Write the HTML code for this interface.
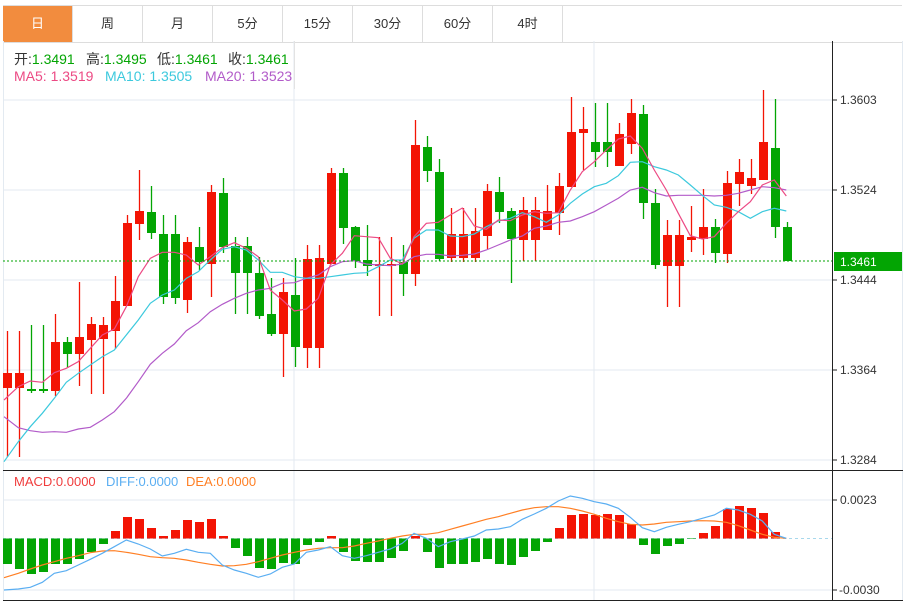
<!DOCTYPE html>
<html><head><meta charset="utf-8">
<style>
body{margin:0;width:907px;height:601px;background:#fff;overflow:hidden;font-family:"Liberation Sans","Noto Sans CJK SC",sans-serif;}
#tabs{position:absolute;left:3px;top:5px;height:36px;border-top:1px solid #ddd;border-bottom:1px solid #ddd;width:899px;}
.tab{position:absolute;top:0;width:69px;height:36px;line-height:36px;text-align:center;font-size:13px;color:#333;border-right:1px solid #ddd;}
svg{position:absolute;left:0;top:0}
</style></head><body>
<div id="tabs">
<div class="tab" style="left:0;background:#f28c3e;color:#fff">日</div>
<div class="tab" style="left:70px">周</div>
<div class="tab" style="left:140px">月</div>
<div class="tab" style="left:210px">5分</div>
<div class="tab" style="left:280px">15分</div>
<div class="tab" style="left:350px">30分</div>
<div class="tab" style="left:420px">60分</div>
<div class="tab" style="left:490px">4时</div>
</div>
<svg id="s" width="907" height="601" xmlns="http://www.w3.org/2000/svg"></svg>
<script>
var C=[[373,388,331,457,1],[373,388,331,457,1],[389,391,325,393,0],[389,391,325,393,0],[342,391,314,396,1],[342,354,337,368,0],[337,354,282,386,1],[324,340,317,394,1],[325,339,317,394,1],[301,331,276,349,1],[223,306,215,306,1],[211,224,170,240,1],[212,233,186,239,0],[234,297,215,304,0],[234,298,215,304,0],[242,300,237,313,1],[247,262,227,270,0],[192,264,185,297,1],[193,247,178,253,0],[246,273,237,314,0],[246,273,237,314,0],[273,316,257,319,0],[314,334,278,336,0],[292,334,278,377,1],[295,347,258,367,0],[259,348,245,368,1],[258,348,245,368,1],[173,264,168,264,1],[173,228,168,244,0],[227,261,226,268,0],[260,266,225,276,0],[264,266,237,316,1],[264,266,237,316,1],[262,274,245,296,0],[145,274,120,286,1],[147,171,136,182,0],[172,259,159,261,0],[234,258,208,262,1],[234,258,208,262,1],[231,258,208,262,1],[191,236,184,249,1],[192,212,177,223,0],[211,239,208,283,0],[210,240,197,261,1],[210,240,197,261,1],[211,230,185,230,1],[186,213,173,235,1],[132,187,97,187,1],[129,133,107,170,1],[142,152,103,167,0],[142,152,103,167,0],[134,166,123,166,1],[113,144,99,154,1],[114,203,105,219,0],[203,265,189,269,0],[235,266,220,307,1],[235,266,220,307,1],[237,240,206,252,1],[227,239,189,255,1],[227,253,219,263,0],[183,254,171,263,1],[172,184,159,206,1],[178,186,159,194,1],[142,180,90,180,1],[148,227,99,238,0],[227,261,222,261,0]];
var M=[564,569,574,572,564,564,559,552,544,531,517,519,528,536,530,520,522,519,536,548,556,568,569,563,564,545,542,536,552,561,562,562,558,551,536,552,568,564,564,562,559,564,565,557,551,542,528,515,514,515,514,515,524,545,554,546,544,539,533,526,509,506,508,513,532,538.5];
function P(a,b,ox){var r=[];a.forEach(function(p){r.push(((ox+p[0]/3)).toFixed(1)+','+(b+p[1]/3).toFixed(1))});return r.join(' ');}
var ma5a=[[12,930],[55,890],[91,873],[127,877],[163,848],[199,835],[235,815],[271,775],[307,735],[343,717],[379,650],[415,560],[451,505],[487,487],[523,487],[559,495],[595,525],[631,500],[667,473],[703,458],[739,475],[775,500],[811,600],[847,630],[883,663],[919,657],[955,625],[991,525],[1027,490],[1063,437],[1099,440],[1135,443],[1171,505],[1207,522]];
var ma5b=[[42,440],[79,400],[115,397],[151,375],[187,354],[223,408],[259,418],[295,390],[331,392],[367,375],[403,365],[439,370],[475,368],[511,300],[547,245],[583,215],[619,180],[655,147],[691,138],[727,175],[763,240],[799,300],[835,370],[871,437],[907,447],[943,440],[979,400],[1015,365],[1051,335],[1087,285],[1123,270],[1159,318]];
var ma10a=[[12,1115],[55,1055],[91,1010],[127,970],[163,925],[199,877],[235,850],[271,825],[307,800],[343,780],[379,735],[415,690],[451,640],[487,615],[523,600],[559,565],[595,545],[631,510],[667,478],[703,470],[739,480],[775,510],[811,547],[847,547],[883,560],[919,565],[955,565],[991,560],[1027,555],[1063,550],[1099,548],[1135,530],[1171,510],[1207,510]];
var ma10b=[[42,445],[79,420],[115,420],[151,438],[187,440],[223,432],[259,410],[295,393],[331,385],[367,368],[403,380],[439,397],[475,375],[511,340],[547,312],[583,290],[619,280],[655,257],[691,217],[727,215],[763,230],[799,240],[835,255],[871,285],[907,316],[943,345],[979,352],[1015,365],[1051,385],[1087,365],[1123,355],[1159,363]];
var ma20a=[[12,980],[55,1013],[91,1022],[127,1027],[163,1025],[199,1027],[235,1017],[271,1012],[307,990],[343,965],[379,925],[415,875],[451,823],[487,790],[523,762],[559,722],[595,698],[631,665],[667,643],[703,625],[739,610],[775,600],[811,595],[847,580],[883,578],[919,565],[955,555],[991,530],[1027,515],[1063,512],[1099,522],[1135,525],[1171,527],[1207,522]];
var ma20b=[[42,500],[79,493],[115,493],[151,498],[187,496],[223,492],[259,480],[295,465],[331,450],[367,438],[403,415],[439,408],[475,397],[511,393],[547,380],[583,365],[619,345],[655,325],[691,300],[727,292],[763,308],[799,318],[835,316],[871,316],[907,316],[943,318],[979,316],[1015,310],[1051,300],[1087,290],[1123,293],[1159,300]];
var difa=[[12,375],[55,372],[91,367],[127,352],[163,325],[199,317],[235,300],[271,283],[307,265],[343,245],[379,225],[415,237],[451,252],[487,273],[523,265],[559,253],[595,262],[631,265],[667,300],[703,315],[739,325],[775,337],[811,327],[847,307],[883,297],[919,262],[955,255],[991,245],[1027,272],[1063,280],[1099,272],[1135,262],[1171,252],[1207,235]];
var difb=[[42,205],[79,220],[115,245],[151,230],[187,222],[223,213],[259,195],[295,192],[331,185],[367,163],[403,147],[439,130],[475,108],[511,93],[547,100],[583,110],[619,117],[655,130],[691,157],[727,188],[763,200],[799,187],[835,178],[871,170],[907,160],[943,150],[979,130],[1015,135],[1051,148],[1087,168],[1123,208],[1159,220]];
var deaa=[[12,338],[55,325],[91,312],[127,300],[163,290],[199,280],[235,272],[271,263],[307,258],[343,257],[379,262],[415,268],[451,275],[487,278],[523,280],[559,285],[595,292],[631,298],[667,303],[703,302],[739,298],[775,290],[811,280],[847,270],[883,262],[919,255],[955,250],[991,248],[1027,248],[1063,243],[1099,235],[1135,228],[1171,220],[1207,213]];
var deab=[[42,208],[79,208],[115,203],[151,193],[187,183],[223,173],[259,163],[295,155],[331,145],[367,135],[403,128],[439,125],[475,125],[511,130],[547,138],[583,148],[619,160],[655,170],[691,178],[727,180],[763,177],[799,172],[835,170],[871,168],[907,167],[943,168],[979,172],[1015,182],[1051,195],[1087,208],[1123,217],[1159,220]];
var h='';
var G='#e3eaf1';
[100,190,280,370,460,500,590].forEach(function(y){h+='<line x1="3" y1="'+y+'" x2="832" y2="'+y+'" stroke="'+G+'"/>';});
[294,594].forEach(function(x){h+='<line x1="'+x+'" y1="41" x2="'+x+'" y2="600" stroke="'+G+'"/>';});
h+='<line x1="3.5" y1="41" x2="3.5" y2="600" stroke="'+G+'"/>';
h+='<line x1="902.5" y1="41" x2="902.5" y2="600" stroke="'+G+'"/>';
h+='<line x1="3" y1="470.5" x2="903" y2="470.5" stroke="#222"/>';
h+='<line x1="3" y1="600.5" x2="903" y2="600.5" stroke="#222"/>';
h+='<line x1="832.5" y1="41" x2="832.5" y2="601" stroke="#222"/>';
[['1.3603',100],['1.3524',190],['1.3444',280],['1.3364',370],['1.3284',460],['0.0023',500],['-0.0030',590]].forEach(function(t){
h+='<line x1="832" y1="'+t[1]+'" x2="837" y2="'+t[1]+'" stroke="#222"/><text x="'+(t[0][0]=='-'?839:840)+'" y="'+(t[1]+4)+'" font-size="12" fill="#333">'+t[0]+'</text>';});
h+='<line x1="3" y1="538.5" x2="832" y2="538.5" stroke="#a8d8ec" stroke-dasharray="3,3"/>';
M.forEach(function(v,i){var x=7.5+12*i;var z=538.5;var t=Math.min(v,z),b=Math.max(v,z);if(b-t<0.5)return;
h+='<rect x="'+(x-4.5)+'" y="'+t+'" width="9" height="'+(b-t)+'" fill="'+(v<z?'#f31404':'#03a503')+'"/>';});
h+='<polyline fill="none" stroke="#ff7f24" stroke-width="1.2" points="'+P(deaa,465,0)+' '+P(deab,465,400)+'"/>';
h+='<polyline fill="none" stroke="#5aaef2" stroke-width="1.2" points="'+P(difa,465,0)+' '+P(difb,465,400)+'"/>';
C.forEach(function(c,i){var x=7.5+12*i;var col=c[4]?'#f31404':'#03a503';
h+='<line x1="'+x+'" y1="'+c[2]+'" x2="'+x+'" y2="'+c[3]+'" stroke="'+col+'" stroke-width="1.3"/>';
h+='<rect x="'+(x-4.5)+'" y="'+c[0]+'" width="9" height="'+Math.max(1.5,c[1]-c[0])+'" fill="'+col+'"/>';});
h+='<polyline fill="none" stroke="#b25bc9" stroke-width="1.2" points="'+P(ma20a,90,0)+' '+P(ma20b,90,400)+'"/>';
h+='<polyline fill="none" stroke="#3cc9dd" stroke-width="1.2" points="'+P(ma10a,90,0)+' '+P(ma10b,90,400)+'"/>';
h+='<polyline fill="none" stroke="#ec4a84" stroke-width="1.2" points="'+P(ma5a,90,0)+' '+P(ma5b,90,400)+'"/>';
h+='<line x1="3" y1="261" x2="832" y2="261" stroke="#03a503" stroke-dasharray="2,2"/>';
h+='<rect x="834" y="252" width="68" height="19" fill="#03a503"/><text x="840" y="266" font-size="12" fill="#fff">1.3461</text>';
h+='<line x1="294.5" y1="41" x2="294.5" y2="89" stroke="#e3e3e3"/>';
h+='<text y="64" font-size="14" fill="#333"><tspan x="14">开:</tspan><tspan fill="#03a503">1.3491</tspan><tspan x="86">高:</tspan><tspan fill="#03a503">1.3495</tspan><tspan x="157">低:</tspan><tspan fill="#03a503">1.3461</tspan><tspan x="228">收:</tspan><tspan fill="#03a503">1.3461</tspan></text>';
h+='<text y="81" font-size="14"><tspan x="14" fill="#ec4a84">MA5: 1.3519</tspan><tspan x="105" fill="#3cc9dd">MA10: 1.3505</tspan><tspan x="205" fill="#b25bc9">MA20: 1.3523</tspan></text>';
h+='<text y="486" font-size="13"><tspan x="14" fill="#f03c3c">MACD:0.0000</tspan><tspan x="106" fill="#5aaef2">DIFF:0.0000</tspan><tspan x="186" fill="#ff7f24">DEA:0.0000</tspan></text>';
document.getElementById('s').innerHTML=h;
</script>
</body></html>
